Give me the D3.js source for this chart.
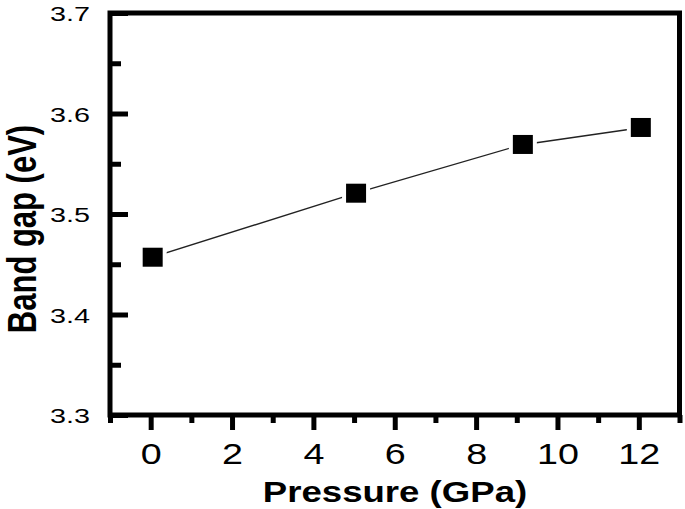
<!DOCTYPE html>
<html><head><meta charset="utf-8">
<script src="https://cdn.jsdelivr.net/npm/d3@7"></script>
<style>body{margin:0;background:#fff}</style>
</head><body>
<svg id="c" width="685" height="509"></svg>
<script>
const pressure = [0, 5, 9.1, 12];
const bandGap = [3.4565, 3.5202, 3.5687, 3.5856];
const xMajorTicks = [0, 2, 4, 6, 8, 10, 12];
const xMinorTicks = [-1, 1, 3, 5, 7, 9, 11, 13];
const yMajorTicks = [3.3, 3.4, 3.5, 3.6, 3.7];
const yMinorTicks = [3.35, 3.45, 3.55, 3.65];
const xTitle = "Pressure (GPa)";
const yTitle = "Band gap (eV)";

const svg = d3.select("#c");
const L = 110, R = 679.5, T = 13, B = 415;
const x = d3.scaleLinear().domain([-1, 13]).range([L, R]);
const y = d3.scaleLinear().domain([3.3, 3.7]).range([B, T]);

// x axis ticks (outward)
const gx = svg.append("g").attr("transform", `translate(0,${B})`);
gx.call(d3.axisBottom(x).tickValues(xMajorTicks).tickSize(15).tickSizeOuter(0).tickFormat(d3.format("d")));
gx.select(".domain").remove();
gx.selectAll("line").attr("stroke", "#000").attr("stroke-width", 5);
gx.selectAll("text").attr("y", 0).attr("dy", 0)
  .attr("transform", "translate(0,49) scale(1.3,1)")
  .attr("font-family", "Liberation Sans, Arial, sans-serif").attr("font-size", 29).attr("fill", "#000");
const gxm = svg.append("g").attr("transform", `translate(0,${B})`);
gxm.call(d3.axisBottom(x).tickValues(xMinorTicks).tickSize(8).tickSizeOuter(0).tickFormat(""));
gxm.select(".domain").remove();
gxm.selectAll("line").attr("stroke", "#000").attr("stroke-width", 5);

// y axis ticks (inward)
const gy = svg.append("g").attr("transform", `translate(${L},0)`);
gy.call(d3.axisLeft(y).tickValues(yMajorTicks).tickSize(-18).tickSizeOuter(0).tickFormat(d3.format(".1f")));
gy.select(".domain").remove();
gy.selectAll("line").attr("stroke", "#000").attr("stroke-width", 5);
gy.selectAll("text").attr("x", 0).attr("dy", "0.36em").attr("text-anchor", "end")
  .attr("transform", "translate(-20,0) scale(1.37,1)")
  .attr("font-family", "Liberation Sans, Arial, sans-serif").attr("font-size", 21).attr("fill", "#000");
const gym = svg.append("g").attr("transform", `translate(${L},0)`);
gym.call(d3.axisLeft(y).tickValues(yMinorTicks).tickSize(-11).tickSizeOuter(0).tickFormat(""));
gym.select(".domain").remove();
gym.selectAll("line").attr("stroke", "#000").attr("stroke-width", 5);

// frame
svg.append("rect").attr("x", L).attr("y", T).attr("width", R - L).attr("height", B - T)
  .attr("fill", "none").attr("stroke", "#000").attr("stroke-width", 5);

// data line
const pts = pressure.map((p, i) => [p, bandGap[i]]);
svg.append("path").datum(pts)
  .attr("d", d3.line().x(d => x(d[0])).y(d => y(d[1])))
  .attr("fill", "none").attr("stroke", "#222").attr("stroke-width", 1.4);

// markers with white halo (gap between line and marker)
const s = 20;
svg.selectAll("rect.m").data(pts).join("rect").attr("class", "m")
  .attr("x", d => x(d[0]) - s / 2 + 2).attr("y", d => y(d[1]) - s / 2)
  .attr("width", s).attr("height", s - 1)
  .attr("fill", "#000").attr("stroke", "#fff").attr("stroke-width", 8)
  .style("paint-order", "stroke");

// titles
svg.append("text").text(xTitle)
  .attr("transform", "translate(395,502) scale(1.22,1)")
  .attr("text-anchor", "middle").attr("font-family", "Liberation Sans, Arial, sans-serif")
  .attr("font-weight", "bold").attr("font-size", 30).attr("fill", "#000");
svg.append("text").text(yTitle)
  .attr("transform", "translate(36,229) rotate(-90) scale(1,1.3)")
  .attr("text-anchor", "middle").attr("font-family", "Liberation Sans, Arial, sans-serif")
  .attr("font-weight", "bold").attr("font-size", 31).attr("fill", "#000");
</script>
</body></html>
